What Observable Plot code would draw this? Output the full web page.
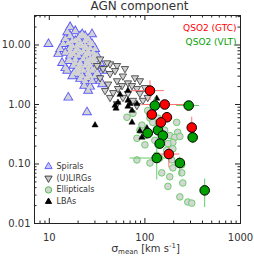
<!DOCTYPE html>
<html><head><meta charset="utf-8">
<script src="https://cdn.jsdelivr.net/npm/d3@7"></script>
<script src="https://cdn.jsdelivr.net/npm/@observablehq/plot@0.6"></script>
<style>body{margin:0;background:#fff}</style>
</head><body><div id="chart"></div>
<script>
// ---- data (sigma_mean in km/s, AGN component) ----
const spiralSigma = [9.8,16.5,15.4,18.7,22.1,28.0,14.0,13.0,12.4,13.6,14.7,15.8,24.8,25.5,26.7,34.0,35.7,30.1,23.7,21.0,17.4,15.4,20.1,25.5,30.1,34.0,31.6,30.1,26.7,23.7,20.1,17.4,16.5,18.7,21.0,23.7,26.7,18.7,16.5,21.0,23.7,26.7,17.8,15.8,22.1,25.5,28.7,32.4,19.6,14.7,24.8,20.5,18.2,23.2,28.0,30.1,36.5,14.7,21.0,24.3,
  16.5,18.7,21.0,23.7,26.7,17.4,19.6,22.6,25.5,28.7,16.5,17.8,20.1,22.6,25.5,28.7,32.4,18.7,21.0,16.5,19.6,22.6,25.5,28.0,31.6,22.1,24.8,26.7,20.1,23.7,25.5,28.0,15.8,30.1];
const spiralAGN = [10.4,20,16.4,17.1,15.2,15.2,10.4,8.6,7.1,5.0,4.1,1.31,0.74,1.71,2.0,2.5,2.2,3.0,2.5,2.7,3.0,3.7,3.7,3.4,4.0,5.0,6.6,8.6,10.8,11.7,12.6,11.7,8.9,7.9,7.4,6.6,5.8,5.8,6.6,5.0,4.5,4.5,4.5,5.4,9.6,7.9,7.4,5.8,10,7.4,5.4,4.1,3.4,2.07,2.5,5.0,3.7,12.6,14.1,8.9,
  14.1,11.7,10.8,9.6,8.9,9.6,8.6,7.9,7.1,6.1,7.9,7.1,6.6,5.8,5.0,5.4,4.5,5.0,4.5,5.4,4.0,3.7,4.0,3.7,3.4,3.0,2.8,3.0,3.3,14.1,12.6,10.4,10.8,6.6];
const ulirgSigma = [34.0,43.2,51.1,36.5,61.9,43.2,58.9,78.7,51.1,66.5,88.7,41.2,57.6,82.5,100,43.2,58.9,75.0,95.2,107,51.1,82.5,73.3,52.3,31.6,40.2,48.7,34.0,38.3,46.5,66.5,88.7];
const ulirgAGN = [5.8,4.8,4.5,4.0,4.0,3.3,3.0,2.8,2.5,2.3,2.5,2.2,2.07,1.85,1.92,1.31,1.31,1.17,1.17,1.31,1.03,0.96,2.07,1.85,4.5,5.0,3.7,2.8,1.71,1.58,1.53,1.53];
const ellSigma = [64.9,75,107,113,93.1,121,88.7,143,215,220,182,205,154,196,174,137,169,133,82.5,113,191,243,196,150,182,243,249,174,232,281,309,82.5,100,127,161,232,196,143,137,100];
const ellAGN = [0.61,0.71,0.79,0.59,0.45,0.50,0.37,0.40,0.50,0.34,0.30,0.28,0.27,0.23,0.22,0.21,0.17,0.14,0.117,0.104,0.117,0.097,0.086,0.071,0.061,0.071,0.048,0.042,0.028,0.023,0.022,0.27,0.21,0.25,0.37,0.29,0.18,0.126,0.59,0.30];
const lbaSigma = [66.5,54.9,133,52.3,66.5,69.8,82.5,48.7,49.9,66.5,73.3,73.3,30.1,105,93,88.7];
const lbaAGN = [1.71,1.47,1.26,1.08,1.17,1.03,1.03,0.96,0.86,0.93,0.79,0.50,0.45,0.40,0.28,0.36];

const gtcSigma = [113,161,118,170,147,309,178];
const gtcAGN = [1.71,1.0,0.68,0.61,0.5,0.41,0.147];
const gtcSigmaLo = [72,93,null,null,null,null,127];
const gtcSigmaHi = [160,261,null,null,null,null,232];
const gtcAGNLo = [1.17,null,null,null,null,0.28,0.086];
const gtcAGNHi = [2.5,null,null,null,null,0.61,0.19];

const vltSigma = [127,287,137,107,154,316,143,133,232,422];
const vltAGN = [0.96,0.96,0.37,0.33,0.30,0.28,0.22,0.126,0.104,0.036];
const vltSigmaLo = [null,215,null,null,null,null,null,70,null,null];
const vltSigmaHi = [null,374,null,null,null,null,null,182,null,null];
const vltAGNLo = [0.71,null,null,null,null,0.22,null,0.054,0.061,0.0185];
const vltAGNHi = [1.31,null,null,null,null,0.33,null,0.19,0.13,0.056];

const xMajor = [10,100,1000];
const xMinor = [8,9,20,30,40,50,60,70,80,90,200,300,400,500,600,700,800,900];
const yMajor = [0.01,0.1,1,10];
const yMinor = [0.02,0.03,0.04,0.05,0.06,0.07,0.08,0.09,0.2,0.3,0.4,0.5,0.6,0.7,0.8,0.9,2,3,4,5,6,7,8,9,20,30];
const legendLabels = ["Spirals","(U)LIRGs","Ellipticals","LBAs"];
const qsoLabels = ["QSO2 (GTC)","QSO2 (VLT)"];
const titleText = "AGN component";

// ---- build tables ----
const rows = (xs, ys, extra = {}) => xs.map((x, i) => {
  const r = {x, y: ys[i]};
  for (const k in extra) r[k] = extra[k][i];
  return r;
});
const spirals = rows(spiralSigma, spiralAGN);
const ulirgs = rows(ulirgSigma, ulirgAGN);
const ells = rows(ellSigma, ellAGN);
const lbas = rows(lbaSigma, lbaAGN);
const gtc = rows(gtcSigma, gtcAGN, {xlo: gtcSigmaLo, xhi: gtcSigmaHi, ylo: gtcAGNLo, yhi: gtcAGNHi});
const vlt = rows(vltSigma, vltAGN, {xlo: vltSigmaLo, xhi: vltSigmaHi, ylo: vltAGNLo, yhi: vltAGNHi});

const W = 254, H = 258, mL = 34, mR = 14, mT = 15, mB = 35;
const xDom = [7, 1000], yDom = [0.01, 31.3];
const pxPerDecX = (W - mL - mR) / Math.log10(xDom[1] / xDom[0]);
const pxPerDecY = (H - mT - mB) / Math.log10(yDom[1] / yDom[0]);
const fx = px => Math.pow(10, px / pxPerDecX);
const fy = px => Math.pow(10, px / pxPerDecY);

const triangleDown = {
  draw(context, size) {
    const y = -Math.sqrt(size / (Math.sqrt(3) * 3));
    context.moveTo(0, -2 * y);
    context.lineTo(-Math.sqrt(3) * y, y);
    context.lineTo(Math.sqrt(3) * y, y);
    context.closePath();
  }
};

const axisColor = "#222";
const tickMarks = [];
for (const [ticks, len] of [[xMajor, 5], [xMinor, 2.5]]) {
  tickMarks.push(Plot.ruleX(ticks, {x: d => d, y1: yDom[0], y2: yDom[0] * fy(len), stroke: axisColor}));
  tickMarks.push(Plot.ruleX(ticks, {x: d => d, y1: yDom[1] / fy(len), y2: yDom[1], stroke: axisColor}));
}
for (const [ticks, len] of [[yMajor, 5], [yMinor, 2.5]]) {
  tickMarks.push(Plot.ruleY(ticks, {y: d => d, x1: xDom[0], x2: xDom[0] * fx(len), stroke: axisColor}));
  tickMarks.push(Plot.ruleY(ticks, {y: d => d, x1: xDom[1] / fx(len), x2: xDom[1], stroke: axisColor}));
}

const legendStyles = [
  {symbol: "triangle", fill: "#c8c8ff", stroke: "#6060ff", r: 2.7},
  {symbol: triangleDown, fill: "#c8c8c8", stroke: "#444", r: 2.7},
  {symbol: "circle", fill: "#d3d3d3", stroke: "#4cc24c", r: 3.2},
  {symbol: "triangle", fill: "#000", stroke: "#000", r: 2.3}
];
const legendMarks = legendLabels.flatMap((lab, i) => [
  Plot.dot([lab], {frameAnchor: "top-left", dx: 14, dy: 151 + i * 11.7, ...legendStyles[i], strokeWidth: 1}),
  Plot.text([lab], {frameAnchor: "top-left", dx: 22, dy: 151 + i * 11.7, text: d => d, textAnchor: "start", lineAnchor: "middle", fontSize: 8, fill: "#333"})
]);
const qsoColors = ["#ff0000", "#00a000"];
const qsoMarks = qsoLabels.map((lab, i) => Plot.text([lab], {frameAnchor: "top-right", dx: -4, dy: 13 + i * 14, text: d => d, textAnchor: "end", lineAnchor: "middle", fontSize: 9, fill: qsoColors[i]}));

const chart = Plot.plot({
  width: W, height: H,
  marginLeft: mL, marginRight: mR, marginTop: mT, marginBottom: mB,
  style: {fontFamily: "DejaVu Sans", fontSize: "10px", background: "#fff", color: axisColor},
  x: {type: "log", domain: xDom},
  y: {type: "log", domain: yDom},
  marks: [
    // spirals: outlines first, then fills on top so the dense cloud reads as a solid gray area
    Plot.dot(spirals, {x: "x", y: "y", symbol: "triangle", r: 3, fill: "#d3d3d3", stroke: "#5a5aff", strokeWidth: 1.4}),
    Plot.dot(spirals, {x: "x", y: "y", symbol: "triangle", r: 2.7, fill: "#d3d3d3", stroke: "none", fillOpacity: 1}),
    Plot.dot(ulirgs, {x: "x", y: "y", symbol: triangleDown, r: 2.7, fill: "#cfcfcf", stroke: "#333", strokeWidth: 0.8}),
    Plot.dot(ells, {x: "x", y: "y", r: 3.3, fill: "#d6d6d6", stroke: "#6ccf6c", strokeWidth: 1}),
    Plot.dot(lbas, {x: "x", y: "y", symbol: "triangle", r: 2.3, fill: "#000", stroke: "#000", strokeWidth: 0.5}),
    Plot.ruleY(vlt.filter(d => d.xlo != null), {y: "y", x1: "xlo", x2: "xhi", stroke: "#66cc66", strokeWidth: 1}),
    Plot.ruleX(vlt.filter(d => d.ylo != null), {x: "x", y1: "ylo", y2: "yhi", stroke: "#66cc66", strokeWidth: 1}),
    Plot.ruleY(gtc.filter(d => d.xlo != null), {y: "y", x1: "xlo", x2: "xhi", stroke: "#ff7070", strokeWidth: 1}),
    Plot.ruleX(gtc.filter(d => d.ylo != null), {x: "x", y1: "ylo", y2: "yhi", stroke: "#ff7070", strokeWidth: 1}),
    Plot.dot(vlt, {x: "x", y: "y", r: 4.8, fill: "#00a000", stroke: "#000", strokeWidth: 1}),
    Plot.dot(gtc, {x: "x", y: "y", r: 4.8, fill: "#ff0000", stroke: "#000", strokeWidth: 1}),
    ...tickMarks,
    Plot.frame({stroke: axisColor}),
    Plot.axisX(xMajor, {tickSize: 0, tickPadding: 10, tickFormat: d => String(d), fontSize: 10, label: null, fill: "#333"}),
    Plot.axisY(yMajor, {tickSize: 0, tickPadding: 4, tickFormat: d => d.toFixed(2), fontSize: 10, label: null, fill: "#333"}),
    ...legendMarks,
    ...qsoMarks,
    Plot.text([titleText], {frameAnchor: "top", dx: 2, dy: -9, text: d => d, lineAnchor: "middle", fontSize: 12, fill: "#333"}),
    Plot.text(["XLABEL"], {frameAnchor: "bottom", dx: 8, dy: 25, text: d => d, lineAnchor: "middle", fontSize: 10, fill: "#333"})
  ]
});
document.getElementById("chart").appendChild(chart);

// x-axis label with subscript / superscript
d3.select(chart).selectAll("text").filter(function() { return this.textContent === "XLABEL"; }).each(function() {
  const t = d3.select(this);
  t.text(null);
  t.append("tspan").attr("font-size", 11).text("σ");
  t.append("tspan").attr("font-size", 7).attr("dy", 2.5).text("mean");
  t.append("tspan").attr("font-size", 10).attr("dy", -2.5).text(" [km s");
  t.append("tspan").attr("font-size", 7).attr("dy", -4).text("-1");
  t.append("tspan").attr("font-size", 10).attr("dy", 4).text("]");
});
</script></body></html>
